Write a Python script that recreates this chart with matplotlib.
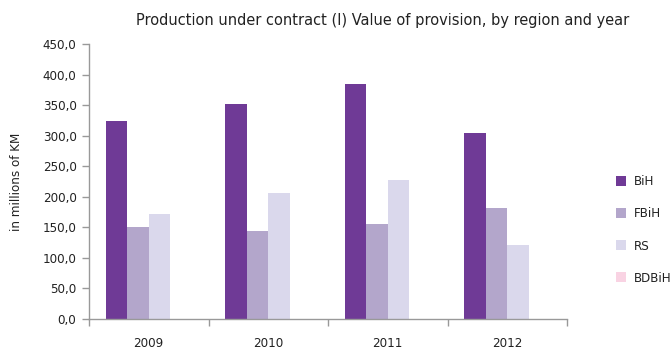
import matplotlib.pyplot as plt
from matplotlib.patches import Patch
import numpy as np

years = ["2009", "2010", "2011", "2012"]
regions = ["BiH", "FBiH", "RS", "BDBiH"]
bih = [324.0, 352.0, 384.5, 304.5]
fbih = [150.8, 144.3, 155.7, 181.9]
rs = [172.0, 206.0, 227.6, 121.0]
bdbih = [0.0, 0.0, 0.0, 0.0]
yticks = [0, 50, 100, 150, 200, 250, 300, 350, 400, 450]

colors = ["#6F3A96", "#B3A6CB", "#DAD8EC", "#F9D3E3"]
series = [bih, fbih, rs, bdbih]

plt.rcParams["font.family"] = ["DejaVu Sans"]
plt.rcParams["font.stretch"] = "condensed"

fig = plt.figure(figsize=(6.72, 3.54), dpi=100)
ax = fig.add_axes([89 / 672, 35 / 354, 478 / 672, 275 / 354])

x = np.arange(len(years))
w = 0.18
for k, (vals, c) in enumerate(zip(series, colors)):
    ax.bar(x + (k - 1.5) * w, vals, width=w, color=c, linewidth=0)

ax.set_xlim(-0.5, 3.5)
ax.set_ylim(0, 450)
ax.set_yticks(yticks)
ax.set_yticklabels([f"{v:.1f}".replace(".", ",") for v in yticks], fontsize=9.5, color="#222222")

# labels centred under groups, ticks on group boundaries
ax.set_xticks(x)
ax.set_xticklabels(years, fontsize=9.5, color="#222222")
ax.tick_params(axis="x", which="major", length=0, pad=13)
ax.set_xticks(np.arange(-0.5, 4.0, 1.0), minor=True)
ax.tick_params(axis="x", which="minor", length=5, color="#999999", width=1)
ax.tick_params(axis="y", length=5, color="#999999", width=1, pad=4)

for side in ["top", "right"]:
    ax.spines[side].set_visible(False)
for side in ["left", "bottom"]:
    ax.spines[side].set_color("#999999")
    ax.spines[side].set_linewidth(1)

ax.set_ylabel("in millions of KM", fontsize=9.5, color="#222222", labelpad=14)

fig.text(383 / 672, 1 - 20 / 354, "Production under contract (I) Value of provision, by region and year",
         ha="center", va="center", fontsize=11.7, color="#222222")

handles = [Patch(facecolor=c, edgecolor="none") for c in colors]
fig.legend(handles, regions, loc="center left", bbox_to_anchor=(604 / 672, 1 - 230 / 354),
           frameon=False, fontsize=9.5, handlelength=0.8, handleheight=0.8,
           labelspacing=1.45, handletextpad=0.6, labelcolor="#222222")

fig.savefig("out.png", dpi=100)
